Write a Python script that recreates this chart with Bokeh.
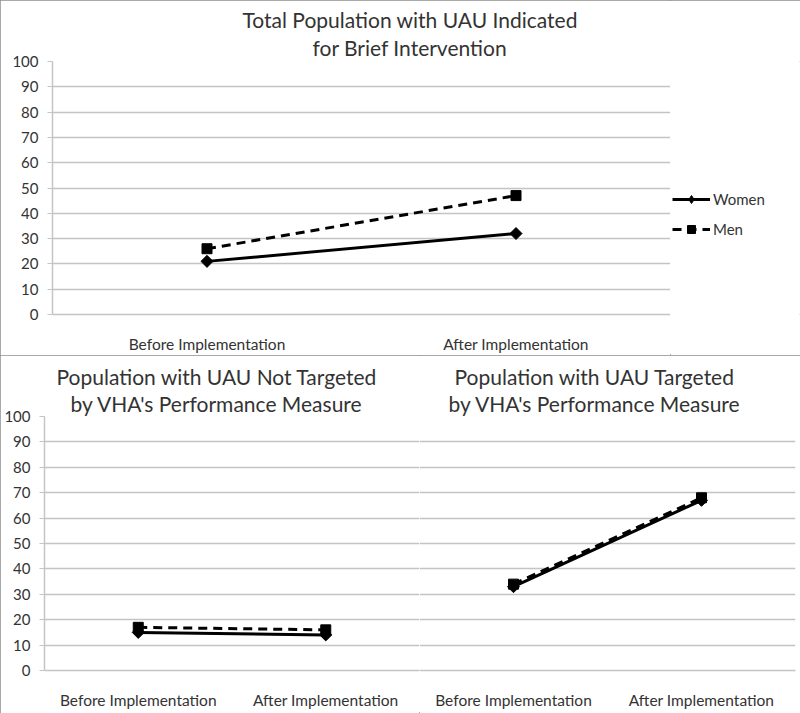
import math
import numpy as np
from bokeh.plotting import figure
from bokeh.models import Legend, LegendItem, Title, FactorRange, Range1d, FixedTicker
from bokeh.layouts import column, row
from bokeh.embed import file_html
from bokeh.resources import INLINE

# ---------------- data ----------------
phases = ["Before Implementation", "After Implementation"]
series_labels = ["Women", "Men"]
total_women = [21, 32]
total_men = [26, 47]
not_targeted_women = [15, 14]
not_targeted_men = [17, 16]
targeted_women = [33, 67]
targeted_men = [34, 68]
y_ticks = list(range(0, 101, 10))
title_top = ["Total Population with UAU Indicated", "for Brief Intervention"]
title_left = ["Population with UAU Not Targeted", "by VHA's Performance Measure"]
title_right = ["Population with UAU Targeted", "by VHA's Performance Measure"]

FONT = "Lato"
GRID = "#c4c4c4"
TEXT = "#333333"
BORDER = {"outline": "1px solid #8c8c8c", "outline-offset": "-1px"}

WOMEN_LINE = dict(line_color="black", line_width=3)
MEN_LINE = dict(line_color="black", line_width=3, line_dash="9 6")
WOMEN_MARK = dict(marker="square", angle=math.pi / 4, size=8.5,
                  fill_color="black", line_color="black")
MEN_MARK = dict(marker="square", size=10, fill_color="black", line_color="black")


def make_fig(width, height, mbl, mbr, mbt, mbb, show_y, titles, offsets, standoff2):
    p = figure(width=width, height=height, x_range=FactorRange(*phases),
               y_range=Range1d(0, 100), output_backend="svg", toolbar_location=None,
               y_axis_location="left" if show_y else None,
               min_border_left=mbl, min_border_right=mbr, min_border_top=mbt,
               min_border_bottom=mbb)
    p.outline_line_color = None
    p.xgrid.grid_line_color = None
    p.ygrid.ticker = FixedTicker(ticks=y_ticks)
    p.ygrid.grid_line_color = GRID
    p.ygrid.grid_line_width = 1.5
    if show_y:
        p.yaxis.ticker = FixedTicker(ticks=y_ticks)
        p.yaxis.axis_line_color = GRID
        p.yaxis.axis_line_width = 1.5
        p.yaxis.major_tick_line_color = GRID
        p.yaxis.major_tick_in = 0
        p.yaxis.major_tick_out = 5
        p.yaxis.minor_tick_line_color = None
        p.yaxis.major_label_text_font = FONT
        p.yaxis.major_label_text_font_size = "15px"
        p.yaxis.major_label_text_color = TEXT
        p.yaxis.major_label_standoff = 9
    p.xaxis.axis_line_color = GRID
    p.xaxis.axis_line_width = 1.5
    p.xaxis.major_tick_line_color = None
    p.xaxis.minor_tick_line_color = None
    p.xaxis.major_label_text_font = FONT
    p.xaxis.major_label_text_font_size = "15.5px"
    p.xaxis.major_label_text_color = TEXT
    p.xaxis.major_label_standoff = 14
    # titles: second line first (closest to the frame)
    p.add_layout(Title(text=titles[1], align="left", offset=offsets[1], text_font=FONT,
                       text_font_size="21px", text_font_style="normal",
                       text_color=TEXT, standoff=standoff2), "above")
    p.add_layout(Title(text=titles[0], align="left", offset=offsets[0], text_font=FONT,
                       text_font_size="21px", text_font_style="normal",
                       text_color=TEXT, standoff=0), "above")
    return p


def add_series(p, women, men):
    p.line(phases, women, **WOMEN_LINE)
    p.scatter(phases, women, **WOMEN_MARK)
    p.line(phases, men, **MEN_LINE)
    p.scatter(phases, men, **MEN_MARK)


# ---------------- top chart ----------------
top = make_fig(670, 355, 52, 0, 61, 39, True, title_top, (190, 260), 3)
add_series(top, total_women, total_men)

# legend panel to the right of the top chart (legend-only renderers, nothing plotted)
leg_fig = figure(width=130, height=355, output_backend="svg", toolbar_location=None,
                 x_axis_location=None, y_axis_location=None, min_border=0)
leg_fig.outline_line_color = None
leg_fig.grid.visible = False
nan = np.array([np.nan])
lw = leg_fig.line(x=nan, y=nan, **WOMEN_LINE)
sw = leg_fig.scatter(x=nan, y=nan, marker="diamond", size=11,
                     fill_color="black", line_color="black")
lm = leg_fig.line(x=nan, y=nan, **MEN_LINE)
sm = leg_fig.scatter(x=nan, y=nan, **MEN_MARK)
legend = Legend(items=[LegendItem(label=series_labels[0], renderers=[lw, sw]),
                       LegendItem(label=series_labels[1], renderers=[lm, sm])],
                location=(2, 75), orientation="vertical",
                border_line_color=None, background_fill_alpha=0,
                label_text_font=FONT, label_text_font_size="15px",
                label_text_color=TEXT, glyph_width=38, glyph_height=20,
                label_height=20, spacing=10, padding=0, margin=0,
                label_standoff=3)
leg_fig.add_layout(legend, "center")

top_row = row(top, leg_fig)
top_row.styles = BORDER

# ---------------- bottom charts ----------------
left = make_fig(419, 358, 44, 0, 61, 43, True, title_left, (12, 26), 1)
add_series(left, not_targeted_women, not_targeted_men)
right = make_fig(381, 358, 0, 5, 61, 43, False, title_right, (35, 29), 1)
add_series(right, targeted_women, targeted_men)

bottom = row(left, right)
bottom.styles = BORDER

layout = column(top_row, bottom)

with open("out.html", "w") as f:
    f.write(file_html(layout, INLINE))
